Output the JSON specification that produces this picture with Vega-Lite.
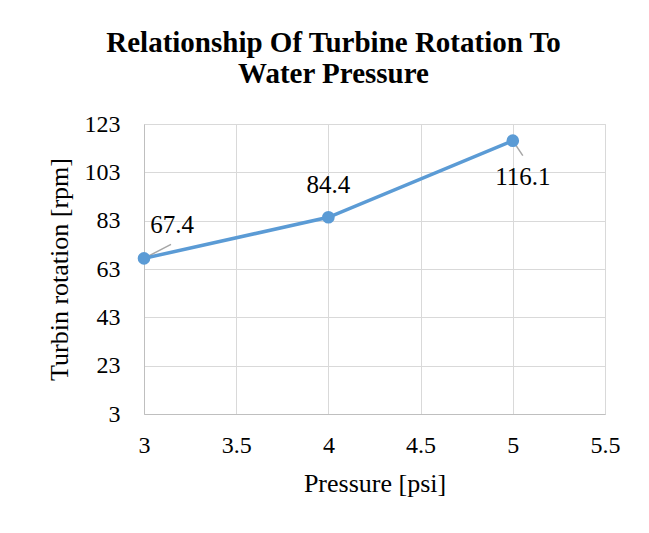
{
  "$schema": "https://vega.github.io/schema/vega-lite/v6.json",
  "autosize": "none",
  "width": 461,
  "height": 290,
  "padding": {"left": 144, "top": 124, "right": 44, "bottom": 119},
  "background": "white",
  "title": {
    "text": ["Relationship Of Turbine Rotation To", "Water Pressure"],
    "font": "Liberation Serif",
    "fontSize": 29,
    "fontWeight": "bold",
    "color": "#000000",
    "anchor": "middle",
    "dx": -41,
    "offset": 23,
    "lineHeight": 31
  },
  "config": {
    "view": {"stroke": "#d9d9d9", "strokeWidth": 1},
    "axis": {
      "labelFont": "Liberation Serif",
      "titleFont": "Liberation Serif",
      "labelFontSize": 24,
      "titleFontSize": 26,
      "labelColor": "#000000",
      "titleColor": "#000000",
      "titleFontWeight": "normal",
      "gridColor": "#d9d9d9",
      "gridWidth": 1,
      "domainColor": "#bfbfbf",
      "domainWidth": 1,
      "ticks": false
    }
  },
  "data": {
    "values": [
      {"pressure": 3, "rpm": 67.4},
      {"pressure": 4, "rpm": 84.4},
      {"pressure": 5, "rpm": 116.1}
    ]
  },
  "encoding": {
    "x": {
      "field": "pressure",
      "type": "quantitative",
      "scale": {"domain": [3, 5.5], "nice": false, "zero": false},
      "axis": {"values": [3, 3.5, 4, 4.5, 5, 5.5], "format": "~g", "title": "Pressure [psi]", "labelPadding": 19, "titlePadding": 13, "labelFlush": false}
    },
    "y": {
      "field": "rpm",
      "type": "quantitative",
      "scale": {"domain": [3, 123], "nice": false, "zero": false},
      "axis": {"values": [3, 23, 43, 63, 83, 103, 123], "title": "Turbin rotation [rpm]", "labelPadding": 24, "titlePadding": 12}
    }
  },
  "layer": [
    {
      "transform": [{"filter": "datum.pressure == 3"}],
      "mark": {"type": "rule", "color": "#a6a6a6", "strokeWidth": 1.5, "x2Offset": 27, "y2Offset": -14},
      "encoding": {"x2": {"field": "pressure"}, "y2": {"field": "rpm"}}
    },
    {
      "transform": [{"filter": "datum.pressure == 5"}],
      "mark": {"type": "rule", "color": "#a6a6a6", "strokeWidth": 1.5, "x2Offset": 10, "y2Offset": 15},
      "encoding": {"x2": {"field": "pressure"}, "y2": {"field": "rpm"}}
    },
    {
      "mark": {"type": "line", "color": "#5b9bd5", "strokeWidth": 3.5},
      "encoding": {}
    },
    {
      "mark": {"type": "point", "filled": true, "color": "#5b9bd5", "size": 160, "opacity": 1},
      "encoding": {}
    },
    {
      "transform": [{"filter": "datum.pressure == 3"}],
      "mark": {"type": "text", "font": "Liberation Serif", "fontSize": 25, "color": "#000000", "baseline": "alphabetic", "align": "center", "dx": 28, "dy": -25},
      "encoding": {"text": {"field": "rpm", "type": "quantitative", "format": ".1f"}}
    },
    {
      "transform": [{"filter": "datum.pressure == 4"}],
      "mark": {"type": "text", "font": "Liberation Serif", "fontSize": 25, "color": "#000000", "baseline": "alphabetic", "align": "center", "dx": 0, "dy": -24},
      "encoding": {"text": {"field": "rpm", "type": "quantitative", "format": ".1f"}}
    },
    {
      "transform": [{"filter": "datum.pressure == 5"}],
      "mark": {"type": "text", "font": "Liberation Serif", "fontSize": 25, "color": "#000000", "baseline": "alphabetic", "align": "center", "dx": 10, "dy": 44},
      "encoding": {"text": {"field": "rpm", "type": "quantitative", "format": ".1f"}}
    }
  ]
}
